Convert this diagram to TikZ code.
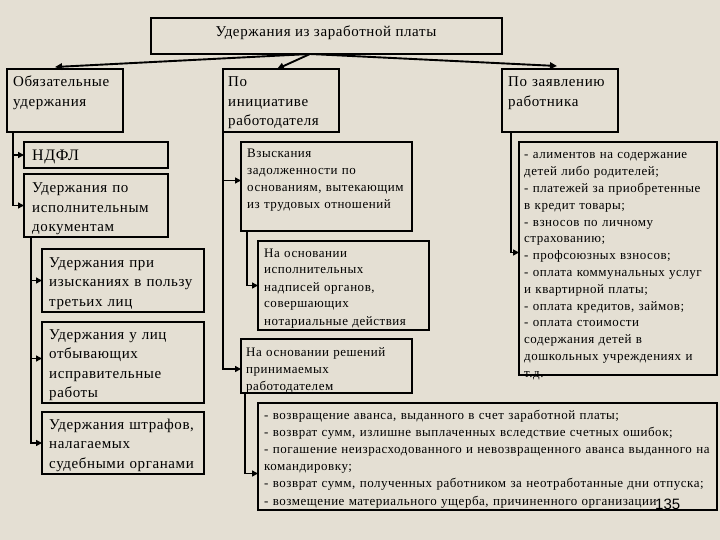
\documentclass[tikz,border=0pt]{standalone}
\usepackage{fontspec}
\setmainfont{Liberation Serif}[LetterSpace=4]
\newfontfamily\pnfont{Liberation Sans}
\usetikzlibrary{arrows.meta,calc}
\definecolor{bgc}{RGB}{228,223,211}
\begin{document}
\begin{tikzpicture}[x=1pt,y=-1pt,
  box/.style={draw=black, line width=1.1pt, rectangle, inner sep=0pt, outer sep=0pt, anchor=north west},
  big/.style={font=\fontsize{15}{19.5}\selectfont, inner sep=0pt, anchor=base west, align=left, text width=300pt},
  sml/.style={font=\fontsize{13}{17}\selectfont, inner sep=0pt, anchor=base west, align=left, text width=470pt},
  conn/.style={line width=1.6pt, -{Triangle[length=6pt,width=6pt]}},
  mainarr/.style={line width=1.9pt, -{Triangle[length=7pt,width=6.5pt]}}]
\fill[bgc] (0,0) rectangle (720,540);
\useasboundingbox (0,0) rectangle (720,540);
% boxes
\node[box, minimum width=351pt, minimum height=36pt] (title) at (151,18) {};
\node[box, minimum width=116pt, minimum height=63pt] (ob) at (7,69) {};
\node[box, minimum width=116pt, minimum height=63pt] (pi) at (223,69) {};
\node[box, minimum width=116pt, minimum height=63pt] (pz) at (502,69) {};
\node[box, minimum width=144pt, minimum height=26pt] (ndfl) at (24,142) {};
\node[box, minimum width=144pt, minimum height=63pt] (ispdoc) at (24,174) {};
\node[box, minimum width=162pt, minimum height=63pt] (izy) at (42,249) {};
\node[box, minimum width=162pt, minimum height=81pt] (lic) at (42,322) {};
\node[box, minimum width=162pt, minimum height=62pt] (sh) at (42,412) {};
\node[box, minimum width=171pt, minimum height=89pt] (vz) at (241,142) {};
\node[box, minimum width=171pt, minimum height=89pt] (nad) at (258,241) {};
\node[box, minimum width=171pt, minimum height=54pt] (resh) at (241,339) {};
\node[box, minimum width=198pt, minimum height=233pt] (rb) at (519,142) {};
\node[box, minimum width=459pt, minimum height=107pt] (bot) at (258,403) {};
% texts
\node[big, anchor=base, text width=, align=center] (title-t) at (326,37) {Удержания из заработной платы};
\node[big] (ob-t) at (13,87) {Обязательные\\удержания};
\node[big] (pi-t) at (228,87) {По\\инициативе\\работодателя};
\node[big] (pz-t) at (508,87) {По заявлению\\работника};
\node[big, font=\fontsize{16}{19}\selectfont] (ndfl-t) at (32,161) {НДФЛ};
\node[big] (ispdoc-t) at (32,193) {Удержания по\\исполнительным\\документам};
\node[big] (izy-t) at (49,267) {Удержания при\\изысканиях в пользу\\третьих лиц};
\node[big] (lic-t) at (49,339) {Удержания у лиц\\отбывающих\\исправительные\\работы};
\node[big] (sh-t) at (49,429) {Удержания штрафов,\\налагаемых\\судебными органами};
\node[sml] (vz-t) at (247,158) {Взыскания\\задолженности по\\основаниям, вытекающим\\из трудовых отношений};
\node[sml] (nad-t) at (264,257) {На основании\\исполнительных\\надписей органов,\\совершающих\\нотариальные действия};
\node[sml] (resh-t) at (246,356) {На основании решений\\принимаемых\\работодателем};
\node[sml, font=\fontsize{13}{16.8}\selectfont] (rb-t) at (524,159) {- алиментов на содержание\\детей либо родителей;\\- платежей за приобретенные\\в кредит товары;\\- взносов по личному\\страхованию;\\- профсоюзных взносов;\\- оплата коммунальных услуг\\и квартирной платы;\\- оплата кредитов, займов;\\- оплата стоимости\\содержания детей в\\дошкольных учреждениях и\\т.д.};
\node[sml, font=\fontsize{13}{17.2}\selectfont] (bot-t) at (264,419) {- возвращение аванса, выданного в счет заработной платы;\\- возврат сумм, излишне выплаченных вследствие счетных ошибок;\\- погашение неизрасходованного и невозвращенного аванса выданного на\\командировку;\\- возврат сумм, полученных работником за неотработанные дни отпуска;\\- возмещение материального ущерба, причиненного организации};
\node[font=\pnfont\fontsize{15}{18}\selectfont, inner sep=0pt, anchor=base west] (pnum) at (655,509) {135};
% connectors from title
\coordinate (ts) at ($(title.south west)+(159,0)$);
\coordinate (t-ob) at ($(ob.north west)+(48,-2)$);
\coordinate (t-pi) at ($(pi.north west)+(54,0)$);
\coordinate (t-pz) at ($(pz.north west)+(55,-3)$);
\draw[mainarr] (ts) -- (t-ob);
\draw[mainarr] (ts) -- (t-pi);
\draw[mainarr] (ts) -- (t-pz);
% left column
\coordinate (ob-l) at ($(ob.south west)+(6,0)$);
\draw[conn] (ob-l) |- (ndfl.west);
\draw[conn] (ob-l) |- (ispdoc.west);
\coordinate (isp-l) at ($(ispdoc.south west)+(7,0)$);
\draw[conn] (isp-l) |- (izy.west);
\draw[conn] (isp-l) |- ([yshift=4pt]lic.west);
\draw[conn] (isp-l) |- (sh.west);
% middle column
\draw[conn] (pi.south west) |- ([yshift=6pt]vz.west);
\draw[conn] (pi.south west) |- ([yshift=-3pt]resh.west);
\coordinate (vz-l) at ($(vz.south west)+(6,0)$);
\draw[conn] (vz-l) |- (nad.west);
\coordinate (resh-l) at ($(resh.south west)+(4,0)$);
\draw[conn] (resh-l) |- ([yshift=-17pt]bot.west);
% right column
\coordinate (pz-l) at ($(pz.south west)+(9,0)$);
\draw[conn] (pz-l) |- ([yshift=6pt]rb.west);
\end{tikzpicture}
\end{document}
